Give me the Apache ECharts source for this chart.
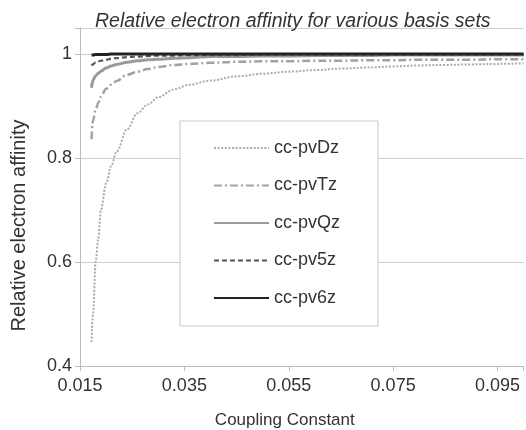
<!DOCTYPE html>
<html>
<head>
<meta charset="utf-8">
<script src="https://cdn.jsdelivr.net/npm/echarts@6/dist/echarts.min.js"></script>
<style>html,body{margin:0;padding:0;background:#fff}#c{width:526px;height:430px}</style>
</head>
<body>
<div id="c"></div>
<script>
// Coupling constant (x) values
var couplingX = [0.0172,0.0175,0.018,0.0185,0.019,0.020,0.021,0.022,0.024,0.026,0.028,0.030,0.033,0.036,0.040,0.045,0.050,0.055,0.060,0.065,0.070,0.075,0.080,0.085,0.090,0.095,0.100];
var seriesNames = ['cc-pvDz','cc-pvTz','cc-pvQz','cc-pv5z','cc-pv6z'];
var dzValues = [0.446,0.50,0.60,0.645,0.70,0.751,0.785,0.812,0.855,0.886,0.903,0.917,0.932,0.941,0.949,0.957,0.962,0.966,0.969,0.972,0.974,0.976,0.978,0.979,0.980,0.981,0.982];
var tzValues = [0.836,0.872,0.893,0.906,0.918,0.933,0.941,0.948,0.960,0.966,0.971,0.975,0.979,0.981,0.983,0.985,0.986,0.986,0.987,0.987,0.988,0.988,0.989,0.989,0.989,0.990,0.990];
var qzValues = [0.935,0.950,0.958,0.963,0.967,0.973,0.977,0.980,0.984,0.987,0.989,0.990,0.992,0.993,0.995,0.995,0.996,0.996,0.997,0.997,0.997,0.998,0.998,0.998,0.998,0.998,0.998];
var v5zValues = [0.978,0.980,0.984,0.986,0.987,0.989,0.991,0.992,0.994,0.995,0.996,0.997,0.997,0.998,0.998,0.998,0.999,0.999,0.999,0.999,0.999,0.999,0.999,0.999,0.999,0.999,0.999];
var v6zValues = [0.998,0.998,0.999,0.999,0.999,0.999,1.0,1.0,1.0,1.0,1.0,1.0,1.0,1.0,1.0,1.0,1.0,1.0,1.0,1.0,1.0,1.0,1.0,1.0,1.0,1.0,1.0];
var xTicks = [0.015,0.035,0.055,0.075,0.095];
var yTicks = [0.4,0.6,0.8,1];

function pairs(ys){ return couplingX.map(function(x,i){ return [x, ys[i]]; }); }
var allValues = [dzValues,tzValues,qzValues,v5zValues,v6zValues];
var styles = [
  {color:'#ababab', width:2, type:[2,1.6]},
  {color:'#a2a2a2', width:2.5, type:[8,3,2,3]},
  {color:'#9a9a9a', width:3, type:'solid'},
  {color:'#585858', width:2.2, type:[5,3]},
  {color:'#222222', width:3, type:'solid'}
];
function isTick(v, arr){ return arr.some(function(t){ return Math.abs(t-v)<1e-9; }); }

var chart = echarts.init(document.getElementById('c'), null, {renderer:'canvas'});
chart.setOption({
  animation:false,
  backgroundColor:'#fff',
  title:{
    text:'Relative electron affinity for various basis sets',
    left:95, top:12, padding:0,
    textStyle:{fontFamily:'Liberation Sans', fontStyle:'italic', fontWeight:'normal', fontSize:19.5, color:'#333'}
  },
  grid:{left:80, right:2.4, top:28, bottom:64, containLabel:false, outerBoundsMode:'none'},
  legend:{
    orient:'vertical', left:180, top:121,
    padding:[18,38,19,33],
    itemWidth:55, itemHeight:14, itemGap:19.5,
    itemStyle:{opacity:0},
    borderColor:'#c8c8c8', borderWidth:1, backgroundColor:'#fff',
    textStyle:{fontFamily:'Liberation Sans', fontSize:18, lineHeight:18, color:'#333'},
    data:seriesNames
  },
  xAxis:{
    type:'value', min:0.015, max:0.1, interval:0.02,
    name:'Coupling Constant', nameLocation:'middle', nameGap:46,
    nameTextStyle:{fontFamily:'Liberation Sans', fontSize:17, color:'#333', padding:[0,34,0,0]},
    axisLine:{show:true, lineStyle:{color:'#bdbdbd', width:1}},
    axisTick:{show:true, length:5, lineStyle:{color:'#bdbdbd'}},
    axisLabel:{margin:11, fontFamily:'Liberation Sans', fontSize:18, color:'#333',
      formatter:function(v){ return isTick(v,xTicks) ? v.toFixed(3) : ''; }},
    splitLine:{show:false}
  },
  yAxis:{
    type:'value', min:0.4, max:1.05, interval:0.2,
    name:'Relative electron affinity', nameLocation:'middle', nameGap:51, nameRotate:90,
    nameTextStyle:{fontFamily:'Liberation Sans', fontSize:20, color:'#333', padding:[0,57,0,0]},
    axisLine:{show:true, lineStyle:{color:'#bdbdbd', width:1}},
    axisTick:{show:true, length:5, lineStyle:{color:'#bdbdbd'}},
    axisLabel:{margin:8, fontFamily:'Liberation Sans', fontSize:18, color:'#333',
      formatter:function(v){ return isTick(v,yTicks) ? String(+v.toFixed(1)) : ''; }},
    splitLine:{show:true, lineStyle:{color:'#cfcfcf', width:1}}
  },
  series: seriesNames.map(function(n,i){
    return {
      name:n, type:'line', data:pairs(allValues[i]),
      smooth:0.35, smoothMonotone:'x', symbol:'none', showSymbol:false,
      lineStyle:{color:styles[i].color, width:styles[i].width, type:styles[i].type},
      itemStyle:{color:styles[i].color},
      clip:true, z: 2+i
    };
  })
});
</script>
</body>
</html>
